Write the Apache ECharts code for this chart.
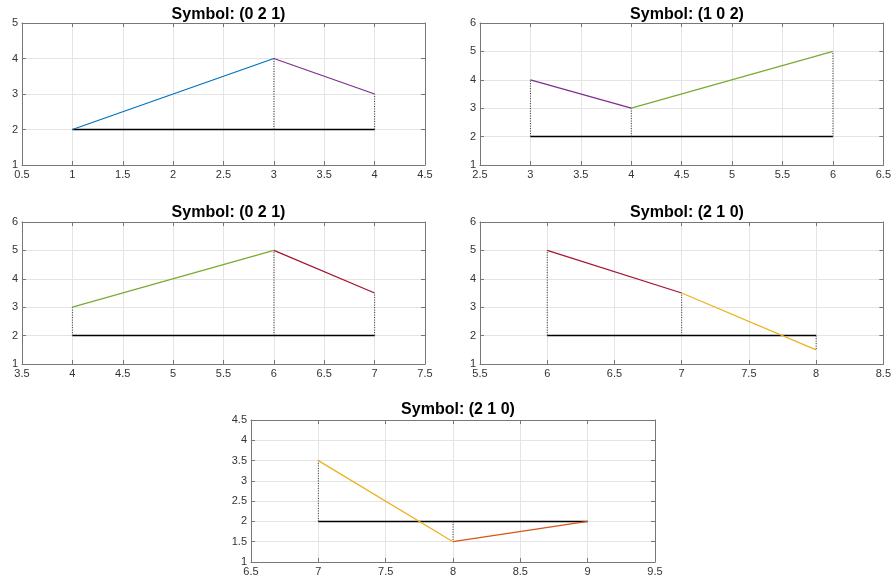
<!DOCTYPE html>
<html lang="en">
<head>
	<meta charset="UTF-8">
	<title>Symbol panels</title>
	<style>
		html, body { margin: 0; padding: 0; background: #fff; }
	</style>
</head>
<body>
<div id="chart" style="width:894px;height:583px;"></div>
<script src="https://cdn.jsdelivr.net/npm/echarts@6/dist/echarts.min.js"></script>
<script>
	// data for each panel
	var titles = ['Symbol: (0 2 1)', 'Symbol: (1 0 2)', 'Symbol: (0 2 1)', 'Symbol: (2 1 0)', 'Symbol: (2 1 0)'];
	var pointX = [[1, 3, 4], [3, 4, 6], [4, 6, 7], [6, 7, 8], [7, 8, 9]];
	var pointY = [[2, 4, 3], [4, 3, 5], [3, 5, 3.5], [5, 3.5, 1.5], [3.5, 1.5, 2]];
	var baseline = 2;
	var xMin = [0.5, 2.5, 3.5, 5.5, 6.5];
	var xMax = [4.5, 6.5, 7.5, 8.5, 9.5];
	var yMin = [1, 1, 1, 1, 1];
	var yMax = [5, 6, 6, 6, 4.5];
	var yStep = [1, 1, 1, 1, 0.5];
	var segColors = [
		['#0072BD', '#7E2F8E'],
		['#7E2F8E', '#77AC30'],
		['#77AC30', '#A2142F'],
		['#A2142F', '#EDB120'],
		['#EDB120', '#D95319']
	];

	// layout (pixels)
	var boxes = [
		{left: 22, top: 23, width: 403, height: 142, titleY: 2},
		{left: 480, top: 23, width: 404, height: 142, titleY: 2},
		{left: 22, top: 222, width: 403, height: 142, titleY: 200},
		{left: 480, top: 222, width: 404, height: 142, titleY: 200},
		{left: 251, top: 420, width: 404, height: 142, titleY: 397}
	];

	var myChart = echarts.init(document.getElementById('chart'));

	var axisColor = '#777';
	var labelColor = '#333';
	var font = 'Liberation Sans, Arial, sans-serif';

	var grid = [], xAxis = [], yAxis = [], title = [], series = [];
	var n = titles.length;

	for (var i = 0; i < n; i++) {
		var b = boxes[i];
		grid.push({left: b.left, top: b.top, width: b.width, height: b.height, containLabel: false});
		title.push({
			text: titles[i],
			left: b.left + b.width / 2,
			top: b.titleY,
			textAlign: 'center',
			textStyle: {fontSize: 16, fontWeight: 'bold', color: '#000', fontFamily: font}
		});
		xAxis.push({
			type: 'value', gridIndex: i, min: xMin[i], max: xMax[i], interval: 0.5,
			position: 'bottom',
			axisLine: {show: true, onZero: false, lineStyle: {color: axisColor}},
			axisTick: {show: true, inside: true, length: 4, lineStyle: {color: axisColor}},
			axisLabel: {color: labelColor, fontSize: 11, margin: 4, fontFamily: font},
			splitLine: {show: true, lineStyle: {color: '#e4e4e4'}}
		});
		yAxis.push({
			type: 'value', gridIndex: i, min: yMin[i], max: yMax[i], interval: yStep[i],
			position: 'left',
			axisLine: {show: true, onZero: false, lineStyle: {color: axisColor}},
			axisTick: {show: true, inside: true, length: 4, lineStyle: {color: axisColor}},
			axisLabel: {color: labelColor, fontSize: 11, margin: 4, fontFamily: font},
			splitLine: {show: true, lineStyle: {color: '#e4e4e4'}}
		});
	}
	// box: top and right axes with inward ticks
	for (var i = 0; i < n; i++) {
		xAxis.push({
			type: 'value', gridIndex: i, min: xMin[i], max: xMax[i], interval: 0.5,
			position: 'top',
			axisLine: {show: true, onZero: false, lineStyle: {color: axisColor}},
			axisTick: {show: true, inside: true, length: 4, lineStyle: {color: axisColor}},
			axisLabel: {show: false},
			splitLine: {show: false}
		});
		yAxis.push({
			type: 'value', gridIndex: i, min: yMin[i], max: yMax[i], interval: yStep[i],
			position: 'right',
			axisLine: {show: true, onZero: false, lineStyle: {color: axisColor}},
			axisTick: {show: true, inside: true, length: 4, lineStyle: {color: axisColor}},
			axisLabel: {show: false},
			splitLine: {show: false}
		});
	}

	for (var i = 0; i < n; i++) {
		var xs = pointX[i], ys = pointY[i];
		// baseline
		series.push({
			type: 'line', xAxisIndex: i, yAxisIndex: i, showSymbol: false, silent: true,
			lineStyle: {color: '#000', width: 1.5},
			data: [[xs[0], baseline], [xs[xs.length - 1], baseline]]
		});
		// dotted stems
		for (var k = 0; k < xs.length; k++) {
			if (ys[k] === baseline) continue;
			series.push({
				type: 'line', xAxisIndex: i, yAxisIndex: i, showSymbol: false, silent: true,
				lineStyle: {color: '#333', width: 1, type: [1, 1.5]},
				data: [[xs[k], baseline], [xs[k], ys[k]]]
			});
		}
		// coloured segments
		for (var k = 0; k < xs.length - 1; k++) {
			series.push({
				type: 'line', xAxisIndex: i, yAxisIndex: i, showSymbol: false, silent: true,
				lineStyle: {color: segColors[i][k], width: 1.3},
				data: [[xs[k], ys[k]], [xs[k + 1], ys[k + 1]]]
			});
		}
	}

	myChart.setOption({
		animation: false,
		title: title,
		grid: grid,
		xAxis: xAxis,
		yAxis: yAxis,
		series: series
	});
</script>
</body>
</html>
